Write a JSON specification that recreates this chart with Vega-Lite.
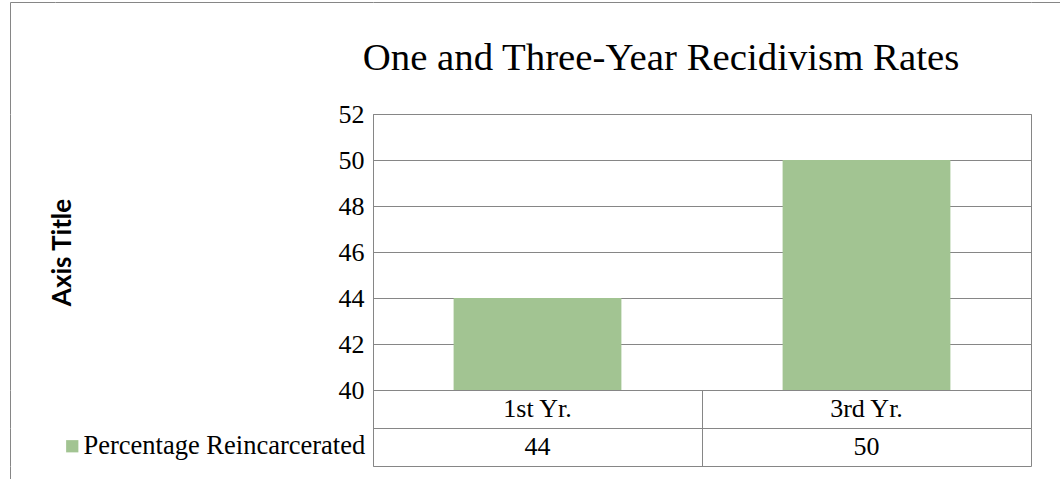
{
  "$schema": "https://vega.github.io/schema/vega-lite/v6.json",
  "autosize": {"type": "pad"},
  "padding": {"left": 10, "top": 2, "right": 0, "bottom": 0},
  "background": "white",
  "columns": 4,
  "bounds": "flush",
  "spacing": 0,
  "resolve": {"scale": {"color": "independent"}, "legend": {"color": "independent"}},
  "config": {
    "view": {"stroke": "#868686", "strokeWidth": 1},
    "axis": {"domainColor": "#868686", "gridColor": "#868686", "gridOpacity": 1, "domainWidth": 1, "gridWidth": 1}
  },
  "datasets": {
    "rates": [
      {"period": "1st Yr.", "pct": 44, "series": "Percentage Reincarcerated"},
      {"period": "3rd Yr.", "pct": 50, "series": "Percentage Reincarcerated"}
    ],
    "frame": [{"a": 0}, {"a": 1}]
  },
  "concat": [
    {
      "width": 45, "height": 112, "view": {"stroke": null},
      "data": {"name": "frame"},
      "mark": {"type": "point", "opacity": 0, "size": 0},
      "encoding": {
        "x": {"field": "a", "type": "quantitative", "axis": {"orient": "top", "labels": false, "ticks": false, "grid": false, "title": null}},
        "y": {"field": "a", "type": "quantitative", "axis": {"orient": "left", "labels": false, "ticks": false, "grid": false, "title": null}}
      }
    },
    {
      "width": 318, "height": 112, "view": {"stroke": null},
      "data": {"name": "frame"},
      "mark": {"type": "point", "opacity": 0, "size": 0},
      "encoding": {
        "x": {"field": "a", "type": "quantitative", "axis": {"orient": "top", "labels": false, "ticks": false, "grid": false, "title": null}}
      }
    },
    {
      "width": 658, "height": 112, "view": {"stroke": null},
      "data": {"name": "frame"},
      "layer": [
        {
          "mark": {"type": "point", "opacity": 0, "size": 0},
          "encoding": {
            "x": {"field": "a", "type": "quantitative", "axis": {"orient": "top", "labels": false, "ticks": false, "grid": false, "title": null}}
          }
        },
        {
          "transform": [{"filter": "datum.a == 0"}],
          "mark": {"type": "text", "font": "Liberation Serif", "fontSize": 38.8, "color": "black", "dx": -41, "baseline": "middle"},
          "encoding": {
            "text": {"value": "One and Three-Year Recidivism Rates"}
          }
        }
      ]
    },
    {
      "width": 29, "height": 112, "view": {"stroke": null},
      "data": {"name": "frame"},
      "mark": {"type": "point", "opacity": 0, "size": 0},
      "encoding": {
        "x": {"field": "a", "type": "quantitative", "axis": {"orient": "top", "labels": false, "ticks": false, "grid": false, "title": null}},
        "y": {"field": "a", "type": "quantitative", "axis": {"orient": "right", "labels": false, "ticks": false, "grid": false, "title": null}}
      }
    },

    {
      "width": 45, "height": 276, "view": {"stroke": null},
      "data": {"name": "frame"},
      "mark": {"type": "point", "opacity": 0, "size": 0},
      "encoding": {
        "y": {"field": "a", "type": "quantitative", "axis": {"orient": "left", "labels": false, "ticks": false, "grid": false, "title": null}}
      }
    },
    {
      "width": 318, "height": 276, "view": {"stroke": null},
      "data": {"name": "frame"},
      "mark": {"type": "point", "opacity": 0, "size": 0},
      "encoding": {}
    },
    {
      "width": 658, "height": 276,
      "data": {"name": "rates"},
      "mark": {"type": "bar", "color": "#A2C492", "clip": true},
      "encoding": {
        "x": {"field": "period", "type": "nominal", "sort": null, "scale": {"paddingInner": 0.49, "paddingOuter": 0.245}, "axis": null},
        "y": {
          "field": "pct",
          "type": "quantitative",
          "scale": {"domain": [40, 52], "zero": false, "nice": false},
          "axis": {
            "values": [40, 42, 44, 46, 48, 50, 52],
            "title": "Axis Title",
            "titleFont": "Lato",
            "titleFontSize": 26,
            "titleFontWeight": "bold",
            "titleColor": "black",
            "titlePadding": 263,
            "labelFont": "Liberation Serif",
            "labelFontSize": 26,
            "labelColor": "black",
            "labelPadding": 9,
            "ticks": false,
            "grid": true,
            "domain": true
          }
        }
      }
    },
    {
      "width": 29, "height": 276, "view": {"stroke": null},
      "data": {"name": "frame"},
      "mark": {"type": "point", "opacity": 0, "size": 0},
      "encoding": {
        "y": {"field": "a", "type": "quantitative", "axis": {"orient": "right", "labels": false, "ticks": false, "grid": false, "title": null}}
      }
    },

    {
      "width": 45, "height": 38, "view": {"stroke": null},
      "data": {"name": "frame"},
      "mark": {"type": "point", "opacity": 0, "size": 0},
      "encoding": {
        "y": {"field": "a", "type": "quantitative", "axis": {"orient": "left", "labels": false, "ticks": false, "grid": false, "title": null}}
      }
    },
    {
      "width": 318, "height": 38, "view": {"stroke": null},
      "data": {"name": "frame"},
      "mark": {"type": "point", "opacity": 0, "size": 0},
      "encoding": {}
    },
    {
      "width": 658, "height": 38,
      "data": {"name": "rates"},
      "mark": {"type": "text", "font": "Liberation Serif", "fontSize": 26, "color": "black"},
      "encoding": {
        "x": {"field": "period", "type": "nominal", "sort": null, "scale": {"type": "band", "padding": 0}, "axis": {"grid": true, "bandPosition": 0, "domain": false, "labels": false, "ticks": false, "title": null}},
        "text": {"field": "period"}
      }
    },
    {
      "width": 29, "height": 38, "view": {"stroke": null},
      "data": {"name": "frame"},
      "mark": {"type": "point", "opacity": 0, "size": 0},
      "encoding": {
        "y": {"field": "a", "type": "quantitative", "axis": {"orient": "right", "labels": false, "ticks": false, "grid": false, "title": null}}
      }
    },

    {
      "width": 45, "height": 38, "view": {"stroke": null},
      "data": {"name": "frame"},
      "mark": {"type": "point", "opacity": 0, "size": 0},
      "encoding": {
        "y": {"field": "a", "type": "quantitative", "axis": {"orient": "left", "labels": false, "ticks": false, "grid": false, "title": null}}
      }
    },
    {
      "width": 318, "height": 38,
      "data": {"name": "rates"},
      "mark": {"type": "square", "size": 0, "filled": true},
      "encoding": {
        "color": {
          "field": "series",
          "type": "nominal",
          "scale": {"range": ["#A2C492"]},
          "legend": {
            "orient": "none",
            "legendX": 4,
            "legendY": 5,
            "title": null,
            "symbolType": "square",
            "symbolSize": 150,
            "symbolOpacity": 1,
            "symbolStrokeWidth": 0,
            "labelFont": "Liberation Serif",
            "labelFontSize": 26.5,
            "labelColor": "black",
            "labelOffset": -2,
            "labelLimit": 400
          }
        }
      }
    },
    {
      "width": 658, "height": 38,
      "data": {"name": "rates"},
      "mark": {"type": "text", "font": "Liberation Serif", "fontSize": 26, "color": "black"},
      "encoding": {
        "x": {"field": "period", "type": "nominal", "sort": null, "scale": {"type": "band", "padding": 0}, "axis": {"grid": true, "bandPosition": 0, "domain": false, "labels": false, "ticks": false, "title": null}},
        "text": {"field": "pct", "type": "quantitative"}
      }
    },
    {
      "width": 29, "height": 38, "view": {"stroke": null},
      "data": {"name": "frame"},
      "mark": {"type": "point", "opacity": 0, "size": 0},
      "encoding": {
        "y": {"field": "a", "type": "quantitative", "axis": {"orient": "right", "labels": false, "ticks": false, "grid": false, "title": null}}
      }
    },

    {
      "width": 45, "height": 13, "view": {"stroke": null},
      "data": {"name": "frame"},
      "mark": {"type": "point", "opacity": 0, "size": 0},
      "encoding": {
        "y": {"field": "a", "type": "quantitative", "axis": {"orient": "left", "labels": false, "ticks": false, "grid": false, "title": null}}
      }
    },
    {
      "width": 318, "height": 13, "view": {"stroke": null},
      "data": {"name": "frame"},
      "mark": {"type": "point", "opacity": 0, "size": 0},
      "encoding": {}
    },
    {
      "width": 658, "height": 13, "view": {"stroke": null},
      "data": {"name": "frame"},
      "mark": {"type": "point", "opacity": 0, "size": 0},
      "encoding": {}
    },
    {
      "width": 29, "height": 13, "view": {"stroke": null},
      "data": {"name": "frame"},
      "mark": {"type": "point", "opacity": 0, "size": 0},
      "encoding": {
        "y": {"field": "a", "type": "quantitative", "axis": {"orient": "right", "labels": false, "ticks": false, "grid": false, "title": null}}
      }
    }
  ]
}
